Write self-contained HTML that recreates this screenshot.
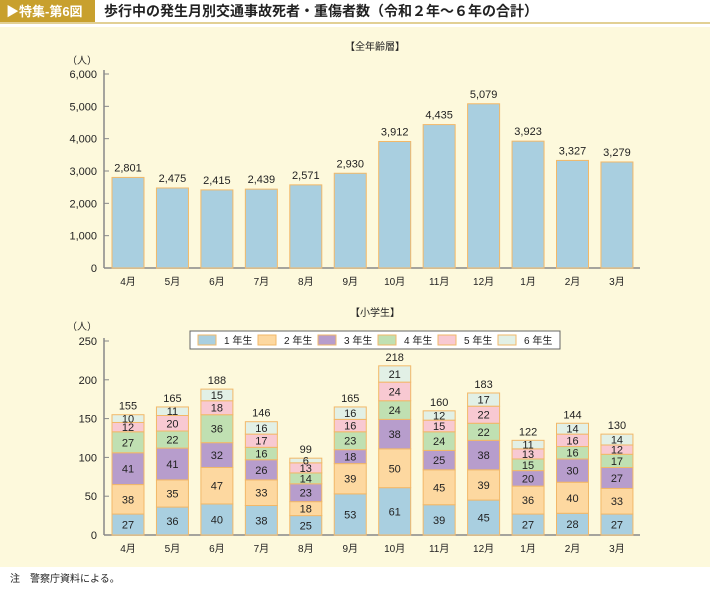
<!DOCTYPE html>
<html><head><meta charset="utf-8"><style>
body{margin:0;width:710px;height:586px;background:#fff;font-family:"Liberation Sans","Noto Sans CJK JP",sans-serif;overflow:hidden}
</style></head><body>
<svg id="c" width="710" height="586" xmlns="http://www.w3.org/2000/svg" style="font-family:'Liberation Sans','Noto Sans CJK JP',sans-serif">
<rect x="0" y="27" width="710" height="540" fill="#fdf9dc"/>
<rect x="0" y="0" width="95" height="22" fill="#c8a02e"/>
<text x="6" y="16" font-size="13" fill="#fff" font-weight="bold">▶特集-第6図</text>
<line x1="0" y1="23" x2="710" y2="23" stroke="#d8c070" stroke-width="1.5"/>
<text x="104" y="16" font-size="14" fill="#222" font-weight="bold">歩行中の発生月別交通事故死者・重傷者数（令和２年～６年の合計）</text>
<text x="375" y="50" font-size="10" text-anchor="middle" fill="#222">【全年齢層】</text>
<text x="375" y="316" font-size="10" text-anchor="middle" fill="#222">【小学生】</text>
<text x="10" y="582" font-size="10" fill="#222">注　警察庁資料による。</text>
<g id="g"></g>
</svg>
<script>
const months=["4月","5月","6月","7月","8月","9月","10月","11月","12月","1月","2月","3月"];
const totalAll=[2801,2475,2415,2439,2571,2930,3912,4435,5079,3923,3327,3279];
const topTicks=[0,1000,2000,3000,4000,5000,6000];
const grades=["1年生","2年生","3年生","4年生","5年生","6年生"];
const g1=[27,36,40,38,25,53,61,39,45,27,28,27];
const g2=[38,35,47,33,18,39,50,45,39,36,40,33];
const g3=[41,41,32,26,23,18,38,25,38,20,30,27];
const g4=[27,22,36,16,14,23,24,24,22,15,16,17];
const g5=[12,20,18,17,13,16,24,15,22,13,16,12];
const g6=[10,11,15,16,6,16,21,12,17,11,14,14];
const childTotals=[155,165,188,146,99,165,218,160,183,122,144,130];
const botTicks=[0,50,100,150,200,250];
const colors=["#a9cfe0","#fdd8a0","#b79dcc","#c0e0b2","#f8c9d2","#e2f0e6"];
const NS="http://www.w3.org/2000/svg",G=document.getElementById('g');
function mk(t,a,txt){const e=document.createElementNS(NS,t);for(const k in a)e.setAttribute(k,a[k]);if(txt!==undefined)e.textContent=txt;G.appendChild(e);return e;}
const xC=i=>128+i*44.45, BW=32, AX=104, AXE=640;
function yTop(v){return 268-v/6000*194;}
function yBot(v){return 535-v/250*194;}
function axes(yf,ticks,fmt,y0,y1,unitY,prefix){
 let e=mk('line',{x1:AX,y1:y0,x2:AX,y2:y1,stroke:'#888','stroke-width':1.5});
 
 e=mk('line',{x1:AX,y1:y0,x2:AXE,y2:y0,stroke:'#888','stroke-width':1.5});
 
 ticks.forEach(t=>{const y=yf(t);
  e=mk('line',{x1:AX,y1:y,x2:AX+5,y2:y,stroke:'#888'});
  
  e=mk('text',{x:AX-7,y:y+4,'font-size':11,'text-anchor':'end',fill:'#222'},fmt(t));
  });
 e=mk('text',{x:AX-22,y:unitY,'font-size':10,'text-anchor':'middle',fill:'#222'},'（人）');
 
 for(let i=0;i<=12;i++){const x=AX+14+i*44.45-22.2;if(x>AX&&x<=AXE){e=mk('line',{x1:x,y1:y0,x2:x,y2:y0-4,stroke:'#888'});
  }}
 months.forEach((m,i)=>{e=mk('text',{x:xC(i),y:y0+17,'font-size':10,'text-anchor':'middle',fill:'#222'},m);
  });
}
axes(yTop,topTicks,v=>v.toLocaleString('en-US'),268,70,64,'top');
totalAll.forEach((v,i)=>{const y=yTop(v);
 let e=mk('rect',{x:xC(i)-BW/2,y:y,width:BW,height:268-y,fill:'#a9cfe0',stroke:'#f2b868','stroke-width':1});
 
 e=mk('text',{x:xC(i),y:y-6,'font-size':11,'text-anchor':'middle',fill:'#222'},v.toLocaleString('en-US'));
 });
axes(yBot,botTicks,v=>String(v),535,338,330,'bottom');
const series=[g1,g2,g3,g4,g5,g6];
months.forEach((m,i)=>{let acc=0;
 series.forEach((s,k)=>{const v=s[i],ya=yBot(acc),yb=yBot(acc+v);
  let e=mk('rect',{x:xC(i)-BW/2,y:yb,width:BW,height:ya-yb,fill:colors[k],stroke:'#f2b868','stroke-width':1});
  
  e=mk('text',{x:xC(i),y:(ya+yb)/2+4,'font-size':11,'text-anchor':'middle',fill:'#222'},v);
  
  acc+=v;});
 const e=mk('text',{x:xC(i),y:yBot(acc)-5,'font-size':11,'text-anchor':'middle',fill:'#222'},childTotals[i]);
 });
let e=mk('rect',{x:190,y:331,width:370,height:18,fill:'#fff',stroke:'#666','stroke-width':1});

grades.forEach((gr,k)=>{const x=198+k*60;
 let r=mk('rect',{x:x,y:335,width:18,height:10,fill:colors[k],stroke:'#f2b868'});
 
 r=mk('text',{x:x+26,y:344,'font-size':10,fill:'#222'},gr.replace('年',' 年').replace(/^(\d)/,'$1'));
 });
</script>
</body></html>
